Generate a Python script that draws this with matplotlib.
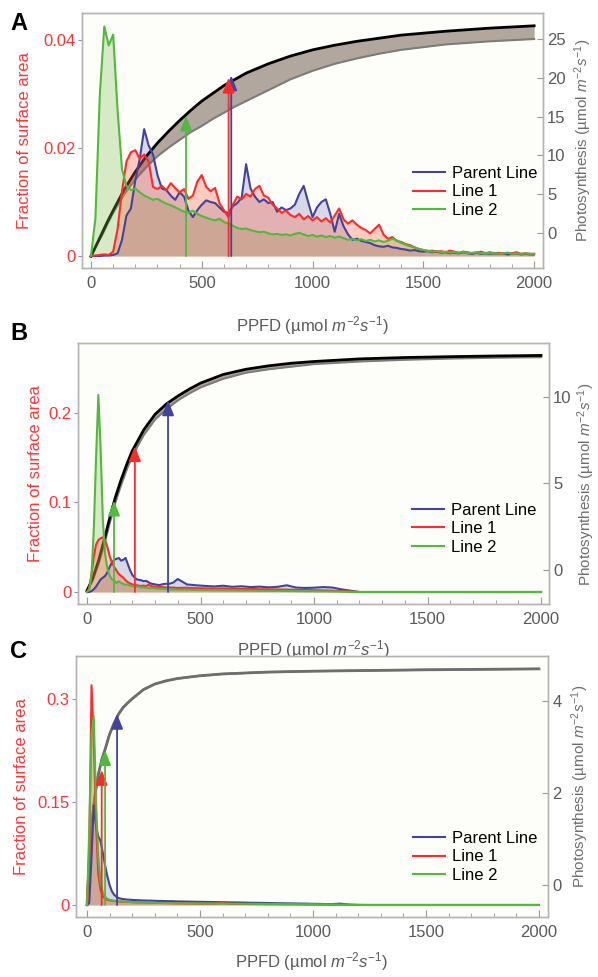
import numpy as np
import matplotlib
matplotlib.use("Agg")
import matplotlib.pyplot as plt
from matplotlib.ticker import MultipleLocator

plt.rcParams['font.family'] = ['Liberation Sans', 'DejaVu Sans']
plt.rcParams['mathtext.fontset'] = 'custom'
plt.rcParams['mathtext.rm'] = 'Liberation Sans'
plt.rcParams['mathtext.it'] = 'Liberation Sans:italic'

line_names = ["Parent Line", "Line 1", "Line 2"]
line_colors = ["#43429c", "#ff2b2b", "#52b83e"]
fill_colors = ["#42429c", "#ff5a3c", "#80c050"]
fill_alpha = [0.2, 0.3, 0.3]

# ---- panel A: fraction of surface area, bins every 20 umol
parent_a = [0, 0, 0, 0.0001, 0.0001, 0.0002, 0.0005, 0.003, 0.0075, 0.0088,
            0.0140, 0.0180, 0.0235, 0.0205, 0.0188, 0.0150, 0.0125, 0.0122, 0.0112, 0.0104,
            0.0118, 0.0110, 0.0084, 0.0072, 0.0085, 0.0095, 0.0103, 0.0100, 0.0098, 0.0090,
            0.0082, 0.0080, 0.0092, 0.0098, 0.0108, 0.0170, 0.0125, 0.0110, 0.0100, 0.0105,
            0.0098, 0.0100, 0.0082, 0.0090, 0.0085, 0.0088, 0.0095, 0.0115, 0.0130, 0.0100,
            0.0072, 0.0090, 0.0100, 0.0105, 0.0078, 0.0045, 0.0078, 0.0055, 0.0040, 0.0030,
            0.0032, 0.0028, 0.0026, 0.0024, 0.0020, 0.0018, 0.0017, 0.0019, 0.0016, 0.0015,
            0.0013, 0.0012, 0.0010, 0.0011, 0.0009, 0.0008, 0.0009, 0.0007, 0.0008, 0.0006,
            0.0007, 0.0005, 0.0006, 0.0005, 0.0007, 0.0005, 0.0004, 0.0006, 0.0004, 0.0005,
            0.0004, 0.0005, 0.0004, 0.0005, 0.0003, 0.0004, 0.0005, 0.0003, 0.0004, 0.0003,
            0.0003]
line1_a = [0, 0.0001, 0.0002, 0.0003, 0.0002, 0.0008, 0.005, 0.012, 0.0175, 0.0192,
           0.0196, 0.0180, 0.0188, 0.0175, 0.0128, 0.0124, 0.0130, 0.0122, 0.0135, 0.0126,
           0.0118, 0.0124, 0.0106, 0.0112, 0.0138, 0.0150, 0.0128, 0.0120, 0.0126, 0.0098,
           0.0085, 0.0072, 0.0095, 0.0110, 0.0105, 0.0115, 0.0110, 0.0124, 0.0130, 0.0112,
           0.0108, 0.0095, 0.0088, 0.0080, 0.0084, 0.0076, 0.0072, 0.0078, 0.0068, 0.0074,
           0.0066, 0.0072, 0.0064, 0.0070, 0.0062, 0.0075, 0.0088, 0.0068, 0.0060, 0.0066,
           0.0058, 0.0052, 0.0048, 0.0042, 0.0050, 0.0058, 0.0040, 0.0032, 0.0035, 0.0028,
           0.0026, 0.0022, 0.0020, 0.0016, 0.0013, 0.0011, 0.0009, 0.0010, 0.0008, 0.0009,
           0.0007, 0.0010, 0.0008, 0.0006, 0.0008, 0.0007, 0.0005, 0.0006, 0.0008, 0.0005,
           0.0007, 0.0005, 0.0006, 0.0004, 0.0006, 0.0005, 0.0007, 0.0004, 0.0005, 0.0004,
           0.0004]
line2_a = [0, 0.007, 0.030, 0.0425, 0.039, 0.041, 0.027, 0.016, 0.013, 0.0122,
           0.0125, 0.0118, 0.0112, 0.0108, 0.0104, 0.0106, 0.0101, 0.0097, 0.0094, 0.0090,
           0.0086, 0.0082, 0.0080, 0.0084, 0.0078, 0.0074, 0.0071, 0.0068, 0.0066, 0.0069,
           0.0063, 0.0060, 0.0056, 0.0052, 0.0050, 0.0051, 0.0048, 0.0046, 0.0044, 0.0045,
           0.0042, 0.0040, 0.0041, 0.0039, 0.0040, 0.0038, 0.0041, 0.0043, 0.0040, 0.0037,
           0.0039, 0.0036, 0.0038, 0.0035, 0.0037, 0.0034, 0.0036, 0.0033, 0.0030, 0.0032,
           0.0029, 0.0031, 0.0028, 0.0030, 0.0027, 0.0029, 0.0026, 0.0028, 0.0032, 0.0029,
           0.0024, 0.0021, 0.0018, 0.0016, 0.0013, 0.0011, 0.0010, 0.0008, 0.0009, 0.0007,
           0.0008, 0.0006, 0.0007, 0.0006, 0.0008, 0.0005, 0.0006, 0.0007, 0.0005, 0.0006,
           0.0005, 0.0006, 0.0004, 0.0005, 0.0006, 0.0004, 0.0005, 0.0004, 0.0005, 0.0004,
           0.0004]
ppfd_a = np.arange(len(parent_a)) * 20

# photosynthesis light response (upper and lower bound)
curve_x_a = [0, 25, 50, 75, 100, 150, 200, 250, 300, 350, 400, 450, 500, 550, 600, 650,
             700, 750, 800, 900, 1000, 1100, 1200, 1300, 1400, 1600, 1800, 2000]
upper_a = [-3.0, -1.5, 0.0, 1.5, 2.9, 5.6, 7.9, 9.9, 11.6, 13.1, 14.5, 15.8, 17.0, 18.0, 19.0, 19.8,
           20.6, 21.2, 21.8, 22.8, 23.6, 24.2, 24.7, 25.1, 25.5, 26.0, 26.4, 26.7]
lower_a = [-3.0, -1.6, -0.3, 1.2, 2.6, 5.0, 6.9, 8.5, 9.9, 11.0, 12.0, 13.0, 13.8, 14.7, 15.5, 16.3,
           17.0, 17.7, 18.4, 19.8, 20.9, 21.8, 22.5, 23.1, 23.6, 24.3, 24.7, 25.0]
arrow_x_a = [633, 621, 429]
arrow_top_a = [20.3, 20.0, 15.1]

# ---- panels B and C: bins every 10 up to 400, then every 40
ppfd_bc = np.r_[np.arange(0, 400, 10), np.arange(400, 2001, 40)]

parent_b = [0, 0, 0.001, 0.003, 0.006, 0.010, 0.014, 0.016, 0.018, 0.022,
            0.028, 0.033, 0.036, 0.037, 0.038, 0.035, 0.036, 0.038, 0.031, 0.024,
            0.019, 0.016, 0.014, 0.0135, 0.013, 0.012, 0.0125, 0.011, 0.0095, 0.009,
            0.0085, 0.008, 0.0078, 0.0085, 0.009, 0.0092, 0.009, 0.0098, 0.0105, 0.0125,
            0.0145, 0.0085, 0.0075, 0.0068, 0.0062, 0.0070, 0.0058, 0.0064, 0.0055, 0.0060,
            0.0052, 0.0058, 0.0075, 0.0050, 0.0045, 0.0048, 0.0055, 0.0050, 0.0030, 0.0015,
            0, 0, 0, 0, 0, 0, 0, 0, 0, 0,
            0, 0, 0, 0, 0, 0, 0, 0, 0, 0, 0]
line1_b = [0, 0.004, 0.02, 0.04, 0.053, 0.058, 0.060, 0.061, 0.058, 0.050,
           0.040, 0.033, 0.028, 0.024, 0.020, 0.018, 0.016, 0.013, 0.011, 0.0095,
           0.0085, 0.0078, 0.0075, 0.0070, 0.0068, 0.0072, 0.0065, 0.0080, 0.0070, 0.0062,
           0.0058, 0.0060, 0.0055, 0.0057, 0.0052, 0.0050, 0.0053, 0.0048, 0.0050, 0.0046,
           0.0045, 0.0047, 0.0042, 0.0040, 0.0038, 0.0040, 0.0036, 0.0034, 0.0035, 0.0031,
           0.0030, 0.0028, 0.0026, 0.0024, 0.0022, 0.0020, 0.0018, 0.0015, 0.0010, 0.0005,
           0, 0, 0, 0, 0, 0, 0, 0, 0, 0,
           0, 0, 0, 0, 0, 0, 0, 0, 0, 0, 0]
line2_b = [0, 0.003, 0.02, 0.07, 0.15, 0.22, 0.16, 0.08, 0.042, 0.026,
           0.018, 0.014, 0.013, 0.010, 0.012, 0.010, 0.009, 0.008, 0.0085, 0.007,
           0.0065, 0.006, 0.0062, 0.0055, 0.005, 0.0052, 0.0048, 0.0045, 0.0042, 0.0044,
           0.004, 0.0038, 0.0036, 0.0037, 0.0034, 0.0032, 0.0033, 0.003, 0.0028, 0.0029,
           0.0027, 0.0026, 0.0023, 0.0021, 0.0020, 0.0019, 0.0018, 0.0016, 0.0016, 0.0014,
           0.0013, 0.0012, 0.0011, 0.0010, 0.0009, 0.0008, 0.0007, 0.0006, 0.0004, 0.0002,
           0, 0, 0, 0, 0, 0, 0, 0, 0, 0,
           0, 0, 0, 0, 0, 0, 0, 0, 0, 0, 0]

curve_x_b = [0, 25, 50, 75, 100, 125, 150, 175, 200, 250, 300, 350, 400, 450, 500,
             600, 700, 800, 900, 1000, 1200, 1400, 1600, 1800, 2000]
upper_b = [-1.2, -0.5, 0.5, 1.7, 3.0, 4.2, 5.2, 6.1, 6.9, 8.1, 9.0, 9.6, 10.05, 10.45, 10.8,
           11.3, 11.6, 11.8, 11.95, 12.05, 12.2, 12.28, 12.33, 12.37, 12.4]
lower_b = [-1.2, -0.6, 0.3, 1.4, 2.7, 3.9, 4.9, 5.8, 6.6, 7.8, 8.7, 9.3, 9.8, 10.2, 10.55,
           11.05, 11.4, 11.6, 11.75, 11.9, 12.05, 12.15, 12.22, 12.27, 12.3]
arrow_x_b = [357, 211, 119]
arrow_top_b = [9.8, 7.15, 4.0]

parent_c = [0, 0.003, 0.07, 0.145, 0.115, 0.100, 0.093, 0.076, 0.058, 0.042,
            0.029, 0.020, 0.015, 0.012, 0.010, 0.0092, 0.0086, 0.0082, 0.0078, 0.0076,
            0.0074, 0.0072, 0.0070, 0.0069, 0.0067, 0.0066, 0.0065, 0.0063, 0.0064, 0.0062,
            0.0061, 0.0060, 0.0058, 0.0059, 0.0057, 0.0056, 0.0055, 0.0056, 0.0054, 0.0053,
            0.0052, 0.0050, 0.0047, 0.0045, 0.0043, 0.0040, 0.0038, 0.0036, 0.0033, 0.0031,
            0.0029, 0.0026, 0.0024, 0.0022, 0.0020, 0.0017, 0.0015, 0.0012, 0.0020, 0.0005,
            0, 0, 0, 0, 0, 0, 0, 0, 0, 0,
            0, 0, 0, 0, 0, 0, 0, 0, 0, 0, 0]
line1_c = [0, 0.08, 0.32, 0.24, 0.12, 0.045, 0.022, 0.013, 0.009, 0.0075,
           0.0068, 0.0062, 0.0058, 0.0055, 0.0052, 0.0050, 0.0048, 0.0046, 0.0045, 0.0043,
           0.0042, 0.0040, 0.0039, 0.0038, 0.0037, 0.0036, 0.0035, 0.0034, 0.0033, 0.0032,
           0.0031, 0.0030, 0.0030, 0.0029, 0.0028, 0.0028, 0.0027, 0.0026, 0.0026, 0.0025,
           0.0025, 0.0023, 0.0022, 0.0020, 0.0019, 0.0030, 0.0016, 0.0015, 0.0014, 0.0013,
           0.0012, 0.0011, 0.0010, 0.0009, 0.0008, 0.0007, 0.0006, 0.0005, 0.0004, 0.0002,
           0, 0, 0, 0, 0, 0, 0, 0, 0, 0,
           0, 0, 0, 0, 0, 0, 0, 0, 0, 0, 0]
line2_c = [0, 0.11, 0.25, 0.275, 0.15, 0.07, 0.032, 0.018, 0.012, 0.009,
           0.0075, 0.0068, 0.0062, 0.0058, 0.0055, 0.0052, 0.0050, 0.0048, 0.0046, 0.0045,
           0.0043, 0.0042, 0.0040, 0.0039, 0.0038, 0.0037, 0.0036, 0.0035, 0.0034, 0.0033,
           0.0032, 0.0031, 0.0030, 0.0030, 0.0029, 0.0028, 0.0028, 0.0027, 0.0026, 0.0026,
           0.0025, 0.0024, 0.0023, 0.0022, 0.0021, 0.0020, 0.0019, 0.0018, 0.0017, 0.0016,
           0.0015, 0.0014, 0.0013, 0.0012, 0.0011, 0.0010, 0.0009, 0.0008, 0.0006, 0.0004,
           0.0002, 0, 0, 0, 0, 0, 0, 0, 0, 0,
           0, 0, 0, 0, 0, 0, 0, 0, 0, 0, 0]

curve_x_c = [0, 5, 10, 15, 20, 25, 30, 40, 50, 65, 80, 100, 120, 140, 160, 180, 200,
             250, 300, 350, 400, 500, 600, 800, 1000, 1500, 2000]
photo_c = [-0.43, 0.05, 0.5, 0.87, 1.2, 1.5, 1.75, 2.1, 2.4, 2.72, 2.95, 3.28, 3.52, 3.72, 3.86, 3.96, 4.05,
           4.25, 4.37, 4.44, 4.49, 4.55, 4.59, 4.63, 4.65, 4.68, 4.70]
arrow_x_c = [133, 65, 80]
arrow_top_c = [3.72, 2.5, 2.93]

FIG_W, FIG_H = 598, 977
GREY = "#5a5a5a"
FRAME = "#b4b4b4"
XLABEL = r"PPFD (µmol $m^{-2}s^{-1}$)"
YLABEL2 = r"Photosynthesis (µmol $m^{-2}s^{-1}$)"


def px_rect(left, top, right, bottom):
    return [left / FIG_W, 1 - bottom / FIG_H, (right - left) / FIG_W, (bottom - top) / FIG_H]


def draw_panel(fig, rect, ppfd, series, curve_x, upper, lower, arrow_x, arrow_top,
               xlim, ylim, ylim2, yticks, yticklabels, yticks2, label_pos, legend_xy,
               upper_color="black", lower_color="#7c7c7c"):
    ax2 = fig.add_axes(rect)
    ax = ax2.twinx()
    # histogram axis is the left one, drawn on top of the curves
    ax.yaxis.tick_left()
    ax.yaxis.set_label_position("left")
    ax2.yaxis.tick_right()
    ax2.yaxis.set_label_position("right")
    ax2.set_facecolor("#fdfdf9")

    ax2.fill_between(curve_x, lower, upper, color="#b2a79e", lw=0)
    ax2.plot(curve_x, lower, color=lower_color, lw=1.5)
    ax2.plot(curve_x, upper, color=upper_color, lw=2.0)

    # green under blue under red, so the shared part blends to tan
    for i in (2, 0, 1):
        ax.fill_between(ppfd, 0, series[i], color=fill_colors[i], alpha=fill_alpha[i], lw=0)
    handles = []
    for vals, col, name in zip(series, line_colors, line_names):
        h, = ax.plot(ppfd, vals, color=col, lw=1.5, label=name)
        handles.append(h)

    ax.set_xlim(*xlim)
    ax2.set_xlim(*xlim)
    ax.set_ylim(*ylim)
    ax2.set_ylim(*ylim2)

    for xa, ya, col in zip(arrow_x, arrow_top, line_colors):
        ax.annotate("", xy=(xa, ya), xycoords=ax2.transData,
                    xytext=(xa, 0), textcoords="data",
                    arrowprops=dict(arrowstyle="-|>,head_length=0.75,head_width=0.3",
                                    color=col, lw=1.3, shrinkA=0, shrinkB=0),
                    fontsize=12)

    ax2.xaxis.set_major_locator(MultipleLocator(500))
    ax2.xaxis.set_minor_locator(MultipleLocator(100))
    ax2.tick_params(axis="x", which="major", direction="in", length=5, color="#999999",
                    labelcolor=GREY, labelsize=12, pad=6)
    ax2.tick_params(axis="x", which="minor", direction="in", length=3, color="#999999")
    ax2.set_yticks(yticks2)
    ax2.tick_params(axis="y", direction="in", length=4, color="#999999",
                    labelcolor=GREY, labelsize=12, pad=3)
    ax.set_yticks(yticks)
    ax.set_yticklabels(yticklabels)
    ax.tick_params(axis="y", direction="out", length=3, color="#8f8fb8",
                   labelcolor="#ff3535", labelsize=12, pad=1.5)
    for a in (ax, ax2):
        for sp in a.spines.values():
            sp.set_color(FRAME)
            sp.set_linewidth(1.0)

    ax2.set_xlabel(XLABEL, fontsize=12, color=GREY)
    ax2.xaxis.label.set_va("center")
    ax2.xaxis.set_label_coords(0.5, label_pos[0])
    ax.set_ylabel("Fraction of surface area", fontsize=12, color="#ff3535")
    ax.yaxis.label.set_va("center")
    ax.yaxis.set_label_coords(label_pos[1], 0.5)
    ax2.set_ylabel(YLABEL2, fontsize=11, color="#6e6e6e")
    ax2.yaxis.label.set_va("center")
    ax2.yaxis.set_label_coords(label_pos[2], label_pos[3])

    ax.legend(handles=handles, loc="upper left",
              bbox_to_anchor=(legend_xy[0] / FIG_W, 1 - legend_xy[1] / FIG_H),
              bbox_transform=fig.transFigure, frameon=False, fontsize=12,
              borderpad=0, borderaxespad=0, handlelength=1.9, handletextpad=0.45,
              labelspacing=0.2)
    return ax, ax2


fig = plt.figure(figsize=(FIG_W / 100, FIG_H / 100), dpi=100)
fig.patch.set_facecolor("white")

draw_panel(fig, px_rect(82, 13, 543, 268), ppfd_a, [parent_a, line1_a, line2_a],
           curve_x_a, upper_a, lower_a, arrow_x_a, arrow_top_a,
           xlim=(-40.6, 2040), ylim=(-0.00222, 0.045), ylim2=(-4.51, 28.35),
           yticks=[0, 0.02, 0.04], yticklabels=["0", "0.02", "0.04"],
           yticks2=[0, 5, 10, 15, 20, 25], label_pos=(-0.227, -0.124, 1.088, 0.5),
           legend_xy=(413, 166))

draw_panel(fig, px_rect(78, 343, 549, 604), ppfd_bc, [parent_b, line1_b, line2_b],
           curve_x_b, upper_b, lower_b, arrow_x_b, arrow_top_b,
           xlim=(-39.6, 2035), ylim=(-0.0134, 0.278), ylim2=(-1.97, 13.12),
           yticks=[0, 0.1, 0.2], yticklabels=["0", "0.1", "0.2"],
           yticks2=[0, 5, 10], label_pos=(-0.176, -0.091, 1.08, 0.46),
           legend_xy=(412, 503))

draw_panel(fig, px_rect(76, 656, 548, 917), ppfd_bc, [parent_c, line1_c, line2_c],
           curve_x_c, photo_c, photo_c, arrow_x_c, arrow_top_c,
           xlim=(-48.7, 2040), ylim=(-0.0175, 0.3626), ylim2=(-0.696, 4.98),
           yticks=[0, 0.15, 0.3], yticklabels=["0", "0.15", "0.3"],
           yticks2=[0, 2, 4], label_pos=(-0.172, -0.1165, 1.068, 0.5),
           legend_xy=(413, 831), upper_color="#6e6e6e", lower_color="#6e6e6e")

for letter, ypx in zip(["A", "B", "C"], [23.5, 333.5, 651.5]):
    fig.text(10 / FIG_W, 1 - ypx / FIG_H, letter, fontsize=17, fontweight="bold",
             va="center", ha="left", color="black")

fig.savefig("out.png", dpi=100, facecolor="white")
